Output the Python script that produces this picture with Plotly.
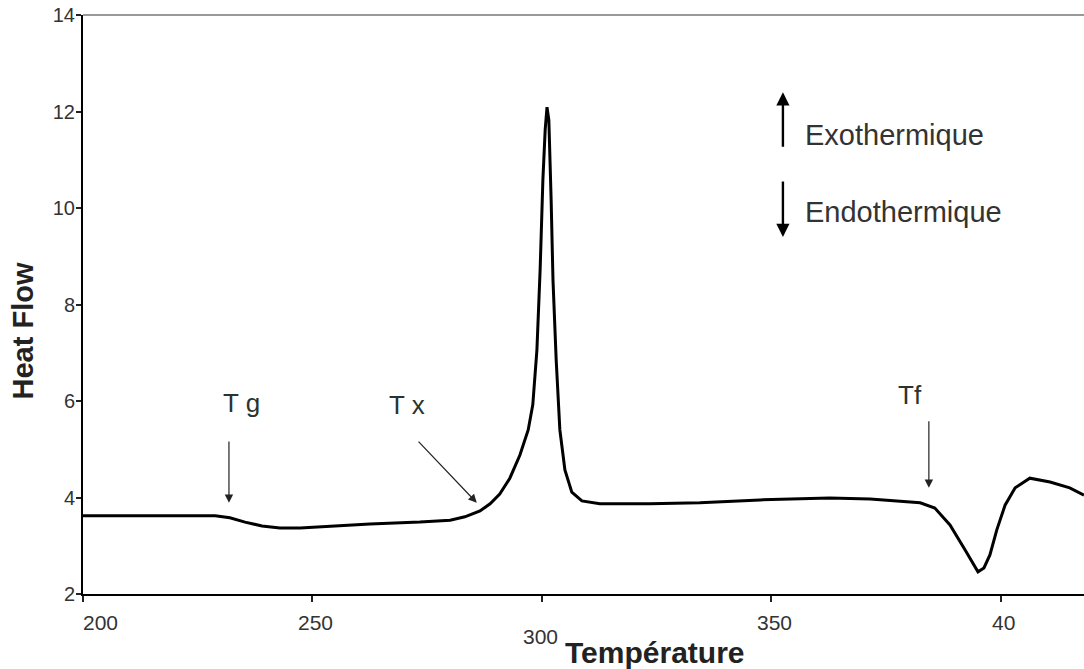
import plotly.graph_objects as go

temperature = [200.0, 214.6, 228.8, 232.0, 235.3, 239.0, 242.9, 247.3, 253.8, 262.5,
               273.4, 280.0, 283.2, 286.5, 288.7, 290.8, 293.0, 295.2, 297.0, 298.0,
               298.9, 299.6, 300.2, 300.7, 301.1, 301.5, 302.0, 302.4, 303.1, 303.9,
               305.0, 306.5, 308.7, 312.6, 323.5, 334.4, 347.5, 362.7, 371.5, 378.0,
               382.4, 385.6, 388.9, 392.2, 395.0, 396.3, 397.6, 399.1, 400.9, 403.1,
               406.3, 410.7, 415.0, 418.1]
heat_flow = [3.62, 3.62, 3.62, 3.58, 3.49, 3.41, 3.37, 3.37, 3.41, 3.45,
             3.49, 3.53, 3.60, 3.72, 3.87, 4.07, 4.40, 4.88, 5.40, 5.92,
             7.06, 8.72, 10.58, 11.62, 12.09, 11.82, 10.17, 8.51, 6.85, 5.40,
             4.57, 4.11, 3.93, 3.87, 3.87, 3.89, 3.95, 3.99, 3.97, 3.93,
             3.89, 3.78, 3.43, 2.91, 2.46, 2.54, 2.81, 3.33, 3.84, 4.20,
             4.40, 4.32, 4.20, 4.05]

x_tick_vals = [200, 250, 300, 350, 400]
x_tick_text = ["200", "250", "300", "350", "40"]
y_tick_vals = [2, 4, 6, 8, 10, 12, 14]

# markers: label, arrow tip (x, y), arrow tail (x, y), label position (x, y)
markers = [
    ("T g", (231.8, 3.89), (231.8, 5.19), (234.6, 5.96)),
    ("T x", (285.8, 3.89), (272.8, 5.19), (270.6, 5.92)),
    ("Tf", (384.3, 4.20), (384.3, 5.61), (380.2, 6.12)),
]

FONT = "Liberation Sans, Arial, sans-serif"

fig = go.Figure()
fig.add_trace(go.Scatter(x=temperature, y=heat_flow, mode="lines",
                         line=dict(color="black", width=3), showlegend=False,
                         hoverinfo="skip"))

annotations = []
for label, tip, tail, pos in markers:
    annotations.append(dict(x=tip[0], y=tip[1], ax=tail[0], ay=tail[1],
                            xref="x", yref="y", axref="x", ayref="y",
                            text="", showarrow=True, arrowhead=2, arrowsize=1.4,
                            arrowwidth=1.2, arrowcolor="#222"))
    annotations.append(dict(x=pos[0], y=pos[1], xref="x", yref="y", text=label,
                            showarrow=False, font=dict(family=FONT, size=26, color="#2b332e")))

# exo / endo arrows
annotations.append(dict(x=352.5, y=12.4, ax=352.5, ay=11.24, xref="x", yref="y",
                        axref="x", ayref="y", text="", showarrow=True, arrowhead=2,
                        arrowsize=1.1, arrowwidth=2.4, arrowcolor="black"))
annotations.append(dict(x=352.5, y=9.4, ax=352.5, ay=10.58, xref="x", yref="y",
                        axref="x", ayref="y", text="", showarrow=True, arrowhead=2,
                        arrowsize=1.1, arrowwidth=2.4, arrowcolor="black"))
annotations.append(dict(x=356.9, y=11.51, xref="x", yref="y", text="Exothermique",
                        xanchor="left", showarrow=False,
                        font=dict(family=FONT, size=29, color="#333")))
annotations.append(dict(x=356.9, y=9.92, xref="x", yref="y", text="Endothermique",
                        xanchor="left", showarrow=False,
                        font=dict(family=FONT, size=29, color="#333")))

# x tick labels
for v, t in zip(x_tick_vals, x_tick_text):
    shift = -15 if v != 300 else -29
    xs = {200: 17, 300: -1}.get(v, 3)
    annotations.append(dict(x=v, y=0, xref="x", yref="paper", text=t, showarrow=False,
                            yanchor="top", yshift=shift, xshift=xs,
                            font=dict(family=FONT, size=21, color="#333")))

# axis titles
annotations.append(dict(x=0, y=0.5, xref="paper", yref="paper", text="<b>Heat Flow</b>",
                        textangle=-90, showarrow=False, xanchor="center", xshift=-61, yshift=-27,
                        font=dict(family=FONT, size=29, color="#222")))
annotations.append(dict(x=0.571, y=0, xref="paper", yref="paper", text="<b>Température</b>",
                        showarrow=False, yanchor="top", yshift=-40,
                        font=dict(family=FONT, size=30, color="#222")))

fig.update_layout(
    width=1084, height=669,
    margin=dict(l=83, r=0, t=15, b=75),
    paper_bgcolor="white", plot_bgcolor="white",
    annotations=annotations,
    shapes=[dict(type="line", xref="paper", yref="paper", x0=0, x1=1, y0=1, y1=1,
                 line=dict(color="#999", width=2))],
)
fig.update_xaxes(range=[200, 418.1], tickvals=x_tick_vals, showticklabels=False,
                 ticks="outside", ticklen=6, tickwidth=1.5, tickcolor="#222",
                 showline=True, linecolor="black", linewidth=2, showgrid=False, zeroline=False)
fig.update_yaxes(range=[2, 14], tickvals=y_tick_vals, ticks="outside", ticklen=5,
                 tickwidth=1.5, tickcolor="#222", ticklabelstandoff=-3,
                 showline=True, linecolor="black", linewidth=2, showgrid=False, zeroline=False,
                 tickfont=dict(family=FONT, size=20, color="#333"))

fig.write_html("out.html", config={"displayModeBar": False},
               post_script="document.body.style.margin='0';document.body.style.overflow='hidden';")
